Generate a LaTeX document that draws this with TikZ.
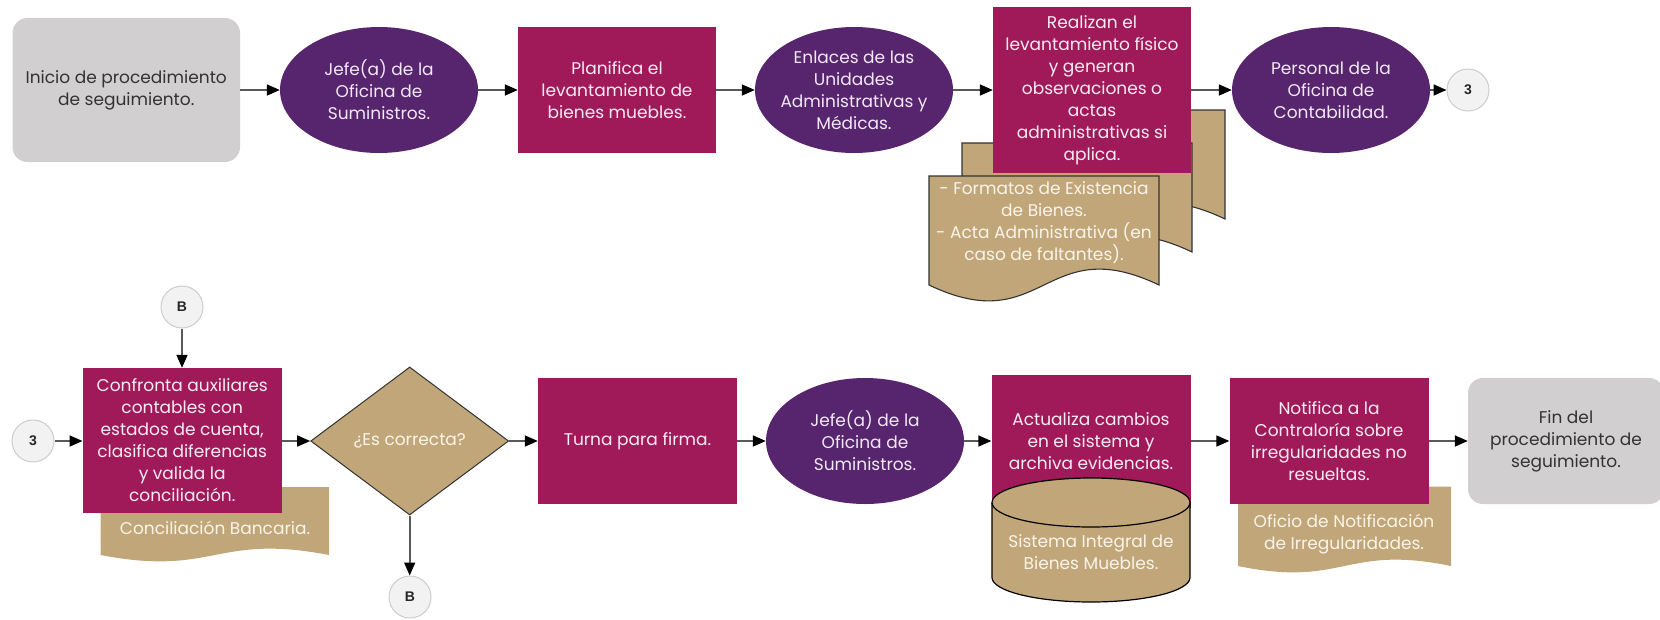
\documentclass[tikz,border=0pt]{standalone}
\usepackage{fontspec}
\setmainfont{Poppins}
\newfontfamily\connfont{Liberation Sans}
\usetikzlibrary{shapes.geometric,arrows.meta}
\definecolor{magc}{HTML}{A01A5A}
\definecolor{purc}{HTML}{57246E}
\definecolor{tanc}{HTML}{C0A678}
\definecolor{grayc}{HTML}{D1CFD0}
\definecolor{connfill}{HTML}{F2F2F2}
\definecolor{connline}{HTML}{CDCDCD}
\definecolor{txtmag}{HTML}{F7ECF2}
\definecolor{txtpur}{HTML}{F1E9F5}
\definecolor{txttan}{HTML}{FAF4EA}
\definecolor{txtdark}{HTML}{333333}
\newcommand\mybodyfont{\fontsize{17}{22}\selectfont}
\tikzset{
  base/.style={inner sep=0pt, align=center, font=\mybodyfont},
  procbox/.style={base, rectangle, fill=magc, text=txtmag, minimum width=199pt, minimum height=126pt},
  actor/.style={base, ellipse, fill=purc, text=txtpur, inner xsep=-14pt, inner ysep=-14pt, minimum width=198pt, minimum height=126pt},
  termbox/.style={base, rectangle, rounded corners=15pt, fill=grayc, text=txtdark},
  conn/.style={circle, fill=connfill, draw=connline, line width=1pt, minimum size=42pt, inner sep=0pt, font=\connfont\bfseries\fontsize{14}{14}\selectfont, text=black!85},
  decision/.style={base, diamond, aspect=1.34, fill=tanc, draw=black!80, line width=1pt, text=txttan, minimum width=198pt, minimum height=148pt},
  flow/.style={draw=black!65, line width=1.6pt, -{Triangle[length=13pt,width=11pt,color=black]}},
  docfill/.style={fill=tanc},
  docline/.style={fill=tanc, draw=black!80, line width=1.1pt},
  doctext/.style={base, text=txttan},
}
\begin{document}
\begin{tikzpicture}[x=1pt,y=-1pt]
\useasboundingbox (0,0) rectangle (1660,619);
% --- documents (behind the boxes)
\draw[docline] (995,110) -- (1225,110) -- (1225,219) .. controls (1110,164) and (1110,274) .. (995,219) -- cycle;
\draw[docline] (962,143) -- (1192,143) -- (1192,252) .. controls (1077,197) and (1077,307) .. (962,252) -- cycle;
\draw[docline] (929,176) -- (1159,176) -- (1159,285) .. controls (1044,230) and (1044,340) .. (929,285) -- cycle;
\fill[docfill] (100.7,487) -- (329,487) -- (329,555) .. controls (214.85,533) and (214.85,577) .. (100.7,555) -- cycle;
\fill[docfill] (1238,486.7) -- (1451,486.7) -- (1451,566) .. controls (1344.5,544) and (1344.5,588) .. (1238,566) -- cycle;
\node[doctext] (docA) at (1044,222.5) {- Formatos de Existencia\\de Bienes.\\- Acta Administrativa (en\\caso de faltantes).};
\node[doctext] (docB) at (215,528) {Conciliación Bancaria.};
\node[doctext] (docC) at (1344,534) {Oficio de Notificación\\de Irregularidades.};
% --- row 1
\node[termbox, minimum width=227.5pt, minimum height=144pt] (start) at (126.25,90) {Inicio de procedimiento\\de seguimiento.};
\node[actor] (e1) at (379,90) {Jefe(a) de la\\Oficina de\\Suministros.};
\node[procbox, minimum width=198pt] (r1) at (617,90) {Planifica el\\levantamiento de\\bienes muebles.};
\node[actor] (e2) at (854,90) {Enlaces de las\\Unidades\\Administrativas y\\Médicas.};
\node[procbox, minimum width=198pt, minimum height=166pt] (r2) at (1092,90) {Realizan el\\levantamiento físico\\y generan\\observaciones o\\actas\\administrativas si\\aplica.};
\node[actor] (e3) at (1331,90) {Personal de la\\Oficina de\\Contabilidad.};
\node[conn] (c3a) at (1468,90) {3};
% --- row 2
\node[conn] (c3b) at (33,441) {3};
\node[conn] (bt) at (182,307) {B};
\node[procbox, minimum height=145pt] (r3) at (182.2,440.5) {Confronta auxiliares\\contables con\\estados de cuenta,\\clasifica diferencias\\y valida la\\conciliación.};
\node[decision] (dec) at (409.7,441) {¿Es correcta?};
\node[conn] (bb) at (410,597) {B};
\node[procbox] (r4) at (637.5,441) {Turna para firma.};
\node[actor] (e4) at (865,441) {Jefe(a) de la\\Oficina de\\Suministros.};
\node[procbox, minimum height=133pt] (r5) at (1091,441.5) {Actualiza cambios\\en el sistema y\\archiva evidencias.};
\fill[tanc] (992,502.5) -- (992,577.5) arc[start angle=180, end angle=360, x radius=99pt, y radius=24.5pt] -- (1190,502.5) arc[start angle=0, end angle=180, x radius=99pt, y radius=24.5pt] -- cycle;
\draw[black, line width=1.2pt] (992,502.5) -- (992,577.5) arc[start angle=180, end angle=360, x radius=99pt, y radius=24.5pt] -- (1190,502.5);
\draw[black, line width=1.2pt] (1091,502.5) ellipse[x radius=99pt, y radius=24.5pt];
\node[doctext] (cyl) at (1091,552.5) {Sistema Integral de\\Bienes Muebles.};
\node[procbox] (r6) at (1329,441) {Notifica a la\\Contraloría sobre\\irregularidades no\\resueltas.};
\node[termbox, minimum width=196pt, minimum height=126pt] (fin) at (1566,441) {Fin del\\procedimiento de\\seguimiento.};
% --- connectors
\draw[flow] (start.east) -- (e1.west);
\draw[flow] (e1.east) -- (r1.west);
\draw[flow] (r1.east) -- (e2.west);
\draw[flow] (e2.east) -- (r2.west);
\draw[flow] (r2.east) -- (e3.west);
\draw[flow] (e3.east) -- (c3a.west);
\draw[flow] (c3b.east) -- (c3b.east -| r3.west);
\draw[flow] (bt.south) -- (bt.south |- r3.north);
\draw[flow] (r3.east |- dec.west) -- (dec.west);
\draw[flow] (dec.south) -- (dec.south |- bb.north);
\draw[flow] (dec.east) -- (r4.west);
\draw[flow] (r4.east) -- (e4.west);
\draw[flow] (e4.east) -- (e4.east -| r5.west);
\draw[flow] (r5.east |- r6.west) -- (r6.west);
\draw[flow] (r6.east) -- (fin.west);
\end{tikzpicture}
\end{document}
